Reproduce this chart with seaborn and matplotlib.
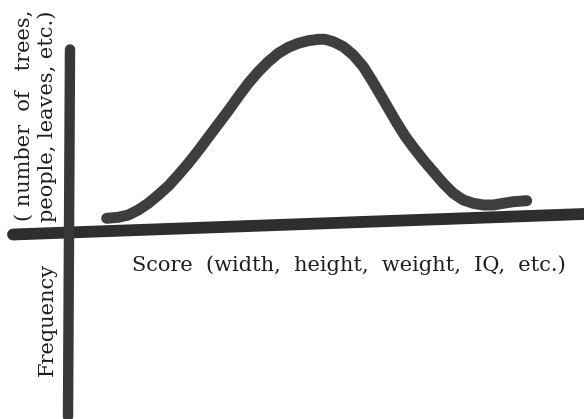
"""
Hand-drawn style frequency curve: score vs frequency (bell shape).
"""

import matplotlib
matplotlib.use("Agg")
import matplotlib.pyplot as plt
import seaborn as sns

# ── Data (drawing units: 1 unit ~ 10 px, origin where the two axes cross) ──
score = [3.77, 4.93, 5.93, 6.93, 7.93, 8.93, 9.93, 10.93, 11.93, 12.93, 13.93,
         14.93, 15.93, 16.93, 17.93, 18.93, 19.93, 20.93, 21.93, 22.93, 23.93,
         24.93, 25.6, 26.43, 27.43, 28.43, 29.43, 30.27, 31.1, 31.93, 32.77,
         33.6, 34.43, 35.43, 36.43, 37.43, 38.43, 39.43, 40.43, 41.43, 42.43,
         43.43, 44.43, 45.77]
freq = [1.52, 1.62, 1.85, 2.35, 3.02, 3.85, 4.75, 5.85, 7.02, 8.28, 9.62,
        10.95, 12.28, 13.68, 15.02, 16.18, 17.18, 18.02, 18.62, 19.02, 19.28,
        19.42, 19.42, 19.18, 18.68, 17.85, 16.68, 15.35, 13.95, 12.52, 11.08,
        9.75, 8.62, 7.35, 6.18, 5.02, 4.02, 3.35, 3.02, 2.85, 2.85,
        3.02, 3.18, 3.28]

# the hand-drawn axes (slightly tilted baseline)
base_x = [-5.6, 51.5]
base_y = [-0.1, 1.95]
vert_x = [0.1, -0.1]
vert_y = [18.4, -18.3]

x_label = "Score  (width,  height,  weight,  IQ,  etc.)"
y_label = "Frequency"
y_note = ["( number  of   trees,", "people, leaves, etc.)"]

# ── Setup ──────────────────────────────────────────────────────────────────
sns.set_theme(style="white")
plt.rcParams["font.family"] = ["DejaVu Serif"]

fig = plt.figure(figsize=(5.84, 4.19), dpi=100)
ax = fig.add_axes([0, 0, 1, 1])
ax.set_xlim(-6.9, 51.5)
ax.set_ylim(-18.55, 23.35)
ax.axis("off")

ink = "#3e3e3e"
sns.lineplot(x=base_x, y=base_y, ax=ax, color="#2e2e2e", lw=8.5,
             estimator=None, sort=False, solid_capstyle="round")
sns.lineplot(x=vert_x, y=vert_y, ax=ax, color="#383838", lw=7.5,
             estimator=None, sort=False, solid_capstyle="round")
sns.lineplot(x=score, y=freq, ax=ax, color=ink, lw=7.9,
             estimator=None, sort=False, solid_capstyle="round",
             solid_joinstyle="round")

# ── Labels ─────────────────────────────────────────────────────────────────
fs = 15
ax.text(6.3, -3.72, x_label, fontsize=fs, color="#1e1e1e",
        ha="left", va="baseline")
ax.text(-1.6, -8.6, y_label, fontsize=fs, color="#1e1e1e", rotation=90,
        rotation_mode="anchor", ha="center", va="baseline")
ax.text(-3.9, 11.85, y_note[0], fontsize=fs, color="#1e1e1e", rotation=90,
        rotation_mode="anchor", ha="center", va="baseline")
ax.text(-1.6, 11.75, y_note[1], fontsize=fs, color="#1e1e1e", rotation=90,
        rotation_mode="anchor", ha="center", va="baseline")

fig.savefig("out.png", dpi=100)
plt.close()
